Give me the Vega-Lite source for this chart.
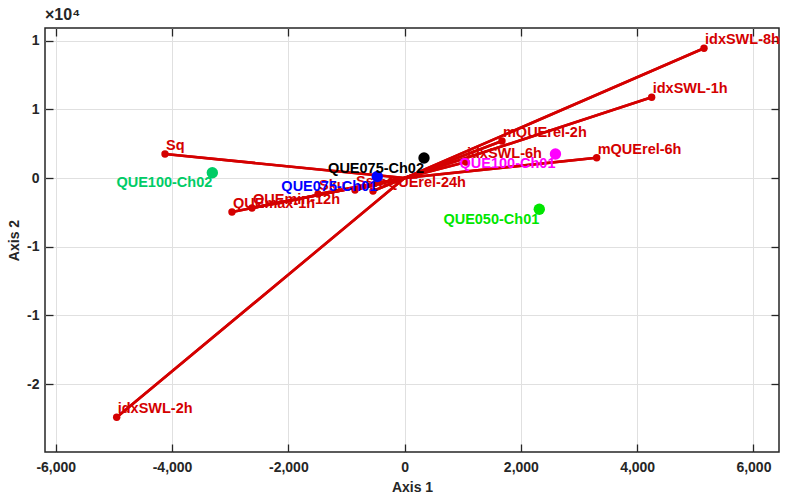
{
  "$schema": "https://vega.github.io/schema/vega-lite/v6.json",
  "width": 734,
  "height": 424,
  "autosize": {"type": "none"},
  "padding": {"left": 45, "top": 28, "right": 14, "bottom": 49},
  "background": "white",
  "title": {"text": "×10⁴", "anchor": "start", "frame": "group", "fontSize": 16, "font": "Liberation Sans", "fontWeight": "bold", "color": "#262626", "offset": 4, "dx": 0},
  "config": {
    "view": {"stroke": "#262626", "strokeWidth": 1.5},
    "axis": {"labelFont": "Liberation Sans", "labelFontSize": 14, "labelFontWeight": "bold", "labelColor": "#262626", "titleFont": "Liberation Sans", "titleFontSize": 14, "titleFontWeight": "bold", "titleColor": "#262626", "gridColor": "#e0e0e0", "gridWidth": 1, "tickColor": "#262626", "tickWidth": 1.3, "domain": false}
  },
  "datasets": {
    "vectors": [
      {"var": "Sq", "a1": -4121, "a2": 1754},
      {"var": "idxSWL-2h", "a1": -4952, "a2": -17422},
      {"var": "idxSWL-8h", "a1": 5150, "a2": 9452},
      {"var": "idxSWL-1h", "a1": 4250, "a2": 5883},
      {"var": "mQUErel-6h", "a1": 3304, "a2": 1484},
      {"var": "mQUErel-2h", "a1": 1675, "a2": 2700},
      {"var": "idxSWL-6h", "a1": 1056, "a2": 1171},
      {"var": "mQUErel-24h", "a1": -543, "a2": -941},
      {"var": "Ssk", "a1": -853, "a2": -868},
      {"var": "Sku", "a1": -1489, "a2": -1160},
      {"var": "QUEmax-1h", "a1": -2969, "a2": -2470},
      {"var": "QUEmin-12h", "a1": -2625, "a2": -2179}
    ],
    "obs": [
      {"obs": "QUE100-Ch02", "a1": -3307, "a2": 392},
      {"obs": "QUE075-Ch02", "a1": 334, "a2": 1462},
      {"obs": "QUE075-Ch01", "a1": -470, "a2": 114},
      {"obs": "QUE100-Ch01", "a1": 2595, "a2": 1754},
      {"obs": "QUE050-Ch01", "a1": 2317, "a2": -2273}
    ]
  },
  "resolve": {"axis": {"x": "independent", "y": "independent"}},
  "layer": [
    {
      "data": {"name": "vectors"},
      "mark": {"type": "rule", "strokeWidth": 2.6, "color": "#d40000"},
      "encoding": {
        "x": {"field": "a1", "type": "quantitative", "scale": {"domain": [-6185, 6440], "nice": false, "zero": false},
          "axis": {"orient": "bottom", "title": "Axis 1", "values": [-6000, -4000, -2000, 0, 2000, 4000, 6000], "labelExpr": "replace(format(datum.value, ','), '−', '-')", "tickSize": -8, "labelPadding": 16, "titlePadding": 6, "grid": true}},
        "y": {"field": "a2", "type": "quantitative", "scale": {"domain": [-19950, 10930], "nice": false, "zero": false},
          "axis": {"orient": "left", "title": "Axis 2", "values": [-15000, -10000, -5000, 0, 5000, 10000], "labelExpr": "(datum.value < 0 ? '-' : '') + round(abs(datum.value)/10000)", "tickSize": -8, "labelPadding": 14, "titlePadding": 5, "grid": true}},
        "x2": {"datum": 0},
        "y2": {"datum": 0}
      }
    },
    {
      "mark": {"type": "rule", "color": "#262626", "strokeWidth": 1.3},
      "encoding": {"x": {"datum": 0, "type": "quantitative", "axis": null}}
    },
    {
      "mark": {"type": "rule", "color": "#262626", "strokeWidth": 1.3},
      "encoding": {"y": {"datum": 0, "type": "quantitative", "axis": null}}
    },
    {
      "data": {"name": "vectors"},
      "mark": {"type": "rule", "strokeWidth": 2.6, "color": "#d40000"},
      "encoding": {
        "x": {"field": "a1", "type": "quantitative", "axis": null},
        "y": {"field": "a2", "type": "quantitative", "axis": null},
        "x2": {"datum": 0},
        "y2": {"datum": 0}
      }
    },
    {
      "data": {"name": "vectors"},
      "mark": {"type": "circle", "size": 55, "opacity": 1, "color": "#d40000"},
      "encoding": {
        "x": {"field": "a1", "type": "quantitative", "axis": null},
        "y": {"field": "a2", "type": "quantitative", "axis": null}
      }
    },
    {
      "data": {"name": "vectors"},
      "mark": {"type": "text", "font": "Liberation Sans", "fontWeight": "bold", "fontSize": 14.5, "align": "left", "baseline": "middle", "dx": 1, "dy": -8, "color": "#d40000"},
      "encoding": {
        "x": {"field": "a1", "type": "quantitative", "axis": null},
        "y": {"field": "a2", "type": "quantitative", "axis": null},
        "text": {"field": "var"}
      }
    },
    {
      "data": {"name": "obs"},
      "mark": {"type": "circle", "size": 130, "opacity": 1},
      "encoding": {
        "x": {"field": "a1", "type": "quantitative", "axis": null},
        "y": {"field": "a2", "type": "quantitative", "axis": null},
        "color": {"field": "obs", "type": "nominal", "legend": null,
          "scale": {"domain": ["QUE100-Ch02", "QUE075-Ch02", "QUE075-Ch01", "QUE100-Ch01", "QUE050-Ch01"], "range": ["#00cc66", "#000000", "#0000ff", "#ff00ff", "#00e600"]}}
      }
    },
    {
      "data": {"name": "obs"},
      "mark": {"type": "text", "font": "Liberation Sans", "fontWeight": "bold", "fontSize": 14.5, "align": "right", "baseline": "middle", "dx": 0, "dy": 10.5},
      "encoding": {
        "x": {"field": "a1", "type": "quantitative", "axis": null},
        "y": {"field": "a2", "type": "quantitative", "axis": null},
        "text": {"field": "obs"},
        "color": {"field": "obs", "type": "nominal", "legend": null}
      }
    },
    {
      "data": {"name": "obs"},
      "mark": {"type": "point", "opacity": 0},
      "encoding": {
        "x": {"field": "a1", "type": "quantitative",
          "axis": {"orient": "top", "title": null, "labels": false, "values": [-6000, -4000, -2000, 0, 2000, 4000, 6000], "tickSize": -8, "grid": false}},
        "y": {"field": "a2", "type": "quantitative",
          "axis": {"orient": "right", "title": null, "labels": false, "values": [-15000, -10000, -5000, 0, 5000, 10000], "tickSize": -8, "grid": false}}
      }
    }
  ]
}
